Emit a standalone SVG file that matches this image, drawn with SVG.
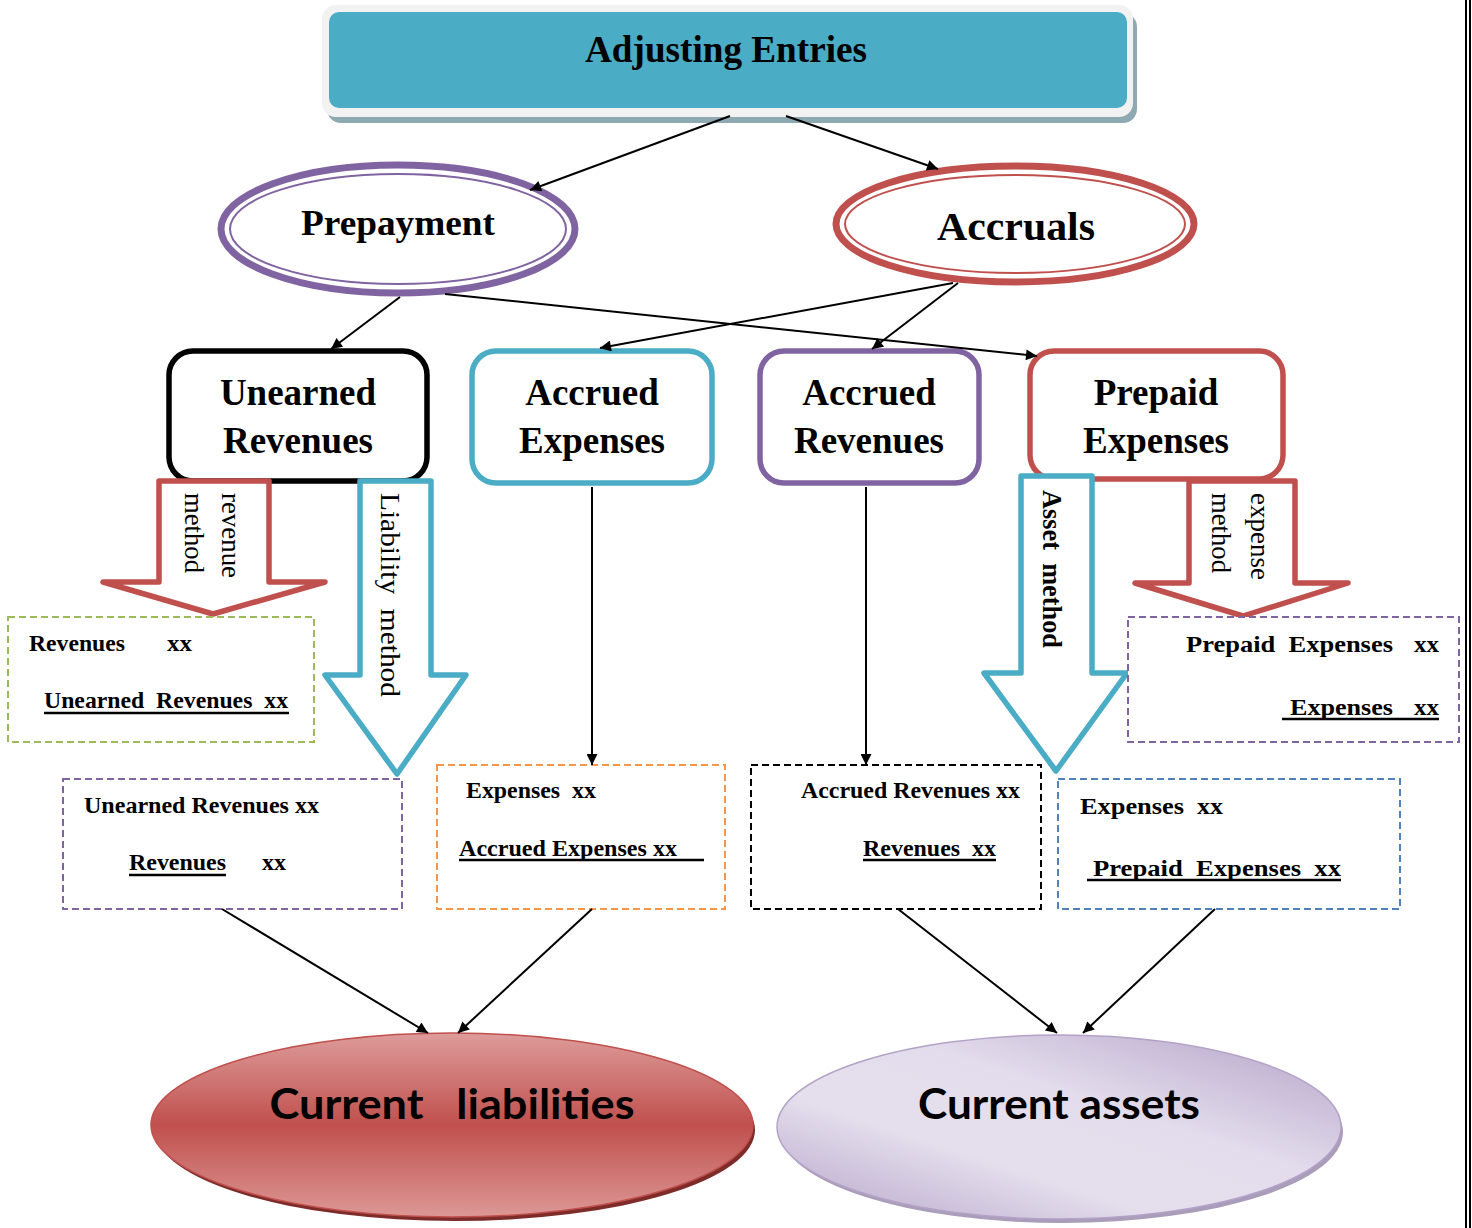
<svg xmlns="http://www.w3.org/2000/svg" width="1472" height="1228" viewBox="0 0 1472 1228" xml:space="preserve">
<defs>
<style>
text{white-space:pre}
.serif{font-family:"Liberation Serif","Times New Roman",serif;fill:#000}
.b{font-weight:bold}
.nt{font-family:"Liberation Serif","Times New Roman",serif;font-weight:bold;font-size:37px;text-anchor:middle}
.et{font-family:"Liberation Serif","Times New Roman",serif;font-weight:bold;font-size:24px}
.rt{font-family:"Liberation Serif","Times New Roman",serif;font-size:27px}
.conn{stroke:#000;stroke-width:2;fill:none}
.ul{stroke:#000;stroke-width:2.5}
.blk{fill:#fff;stroke-width:5.5;stroke-linejoin:round}
.dash{fill:#fff;stroke-width:2;stroke-dasharray:7,4}
.big{font-family:Lato,"Open Sans",sans-serif;font-weight:bold;font-size:42px;text-anchor:middle}
</style>
<marker id="ah" viewBox="0 0 10 10" refX="10" refY="5" markerWidth="14" markerHeight="11" markerUnits="userSpaceOnUse" orient="auto"><path d="M0,0 L10,5 L0,10 z" fill="#000"/></marker>
<linearGradient id="gRed" x1="0" y1="0" x2="0" y2="1">
<stop offset="0" stop-color="#dd9c9a"/><stop offset="0.5" stop-color="#c0504d"/><stop offset="1" stop-color="#dc9896"/>
</linearGradient>
<linearGradient id="gLav" x1="0" y1="1" x2="1" y2="0">
<stop offset="0" stop-color="#b4a3c8"/><stop offset="0.35" stop-color="#e5dfed"/><stop offset="0.6" stop-color="#e3dcec"/><stop offset="1" stop-color="#b3a2c7"/>
</linearGradient>
</defs>
<g id="edge"><line x1="1466" y1="0" x2="1466" y2="1228" stroke="#000" stroke-width="2"/><line x1="1470" y1="0" x2="1470" y2="1228" stroke="#000" stroke-width="2"/></g>
<g id="adjusting-entries"><rect x="327" y="13" width="810" height="110" rx="14" fill="#8ea9b1"/><rect x="322" y="5" width="811" height="112" rx="14" fill="#f2f2f2"/><rect x="329" y="12" width="798" height="96" rx="10" fill="#4bacc6"/><text class="serif b" x="726" y="62" font-size="37" text-anchor="middle" textLength="282" lengthAdjust="spacingAndGlyphs">Adjusting Entries</text></g>
<g id="prepayment"><ellipse cx="398" cy="229" rx="177" ry="64" fill="#fff" stroke="#8064a2" stroke-width="7"/><ellipse cx="398" cy="229" rx="168" ry="55" fill="none" stroke="#8064a2" stroke-width="2"/><text class="serif b" x="398" y="235" font-size="35" text-anchor="middle" textLength="194" lengthAdjust="spacingAndGlyphs">Prepayment</text></g>
<g id="accruals"><ellipse cx="1015" cy="224" rx="179" ry="58" fill="#fff" stroke="#c0504d" stroke-width="7"/><ellipse cx="1015" cy="224" rx="170" ry="49" fill="none" stroke="#c0504d" stroke-width="2"/><text class="serif b" x="1016" y="240" font-size="41" text-anchor="middle" textLength="158" lengthAdjust="spacingAndGlyphs">Accruals</text></g>
<g id="unearned-revenues"><rect x="169" y="351" width="258" height="130" rx="24" fill="#fff" stroke="#000" stroke-width="5.5"/><text class="nt" x="298" y="405">Unearned</text><text class="nt" x="298" y="453">Revenues</text></g>
<g id="accrued-expenses"><rect x="472" y="351" width="240" height="132" rx="24" fill="#fff" stroke="#4bacc6" stroke-width="5.5"/><text class="nt" x="592" y="405">Accrued</text><text class="nt" x="592" y="453">Expenses</text></g>
<g id="accrued-revenues"><rect x="760" y="351" width="219" height="132" rx="24" fill="#fff" stroke="#8064a2" stroke-width="5.5"/><text class="nt" x="869" y="405">Accrued</text><text class="nt" x="869" y="453">Revenues</text></g>
<g id="prepaid-expenses"><rect x="1030" y="351" width="253" height="128" rx="24" fill="#fff" stroke="#c0504d" stroke-width="5.5"/><text class="nt" x="1156" y="405">Prepaid</text><text class="nt" x="1156" y="453">Expenses</text></g>
<g id="revenue-method-arrow"><path class="blk" stroke="#c0504d" d="M159,481 L269,481 L269,582 L325,582 L213,614 L103,582 L159,582 Z"/><text class="rt" transform="translate(222,493) rotate(90)" textLength="85" lengthAdjust="spacingAndGlyphs">revenue</text><text class="rt" transform="translate(185,493) rotate(90)" textLength="80" lengthAdjust="spacingAndGlyphs">method</text></g>
<g id="liability-method-arrow"><path class="blk" stroke="#4bacc6" d="M360,481 L431,481 L431,675 L466,675 L397,774 L325,675 L360,675 Z"/><text class="rt" font-size="29" transform="translate(381,493) rotate(90)" textLength="204" lengthAdjust="spacingAndGlyphs">Liability  method</text></g>
<g id="asset-method-arrow"><path class="blk" stroke="#4bacc6" d="M1021,476 L1092,476 L1092,673 L1127,673 L1056,771 L984,673 L1021,673 Z"/><text class="rt b" font-size="26" transform="translate(1043,490) rotate(90)" textLength="158" lengthAdjust="spacingAndGlyphs">Asset  method</text></g>
<g id="expense-method-arrow"><path class="blk" stroke="#c0504d" d="M1189,481 L1295,481 L1295,583 L1348,583 L1243,616 L1135,583 L1189,583 Z"/><text class="rt" transform="translate(1251,493) rotate(90)" textLength="87" lengthAdjust="spacingAndGlyphs">expense</text><text class="rt" transform="translate(1212,493) rotate(90)" textLength="80" lengthAdjust="spacingAndGlyphs">method</text></g>
<g id="entry-revenue-method"><rect class="dash" x="8" y="617" width="306" height="125" stroke="#9bbb59"/><text class="et" x="29" y="651" textLength="96" lengthAdjust="spacingAndGlyphs">Revenues</text><text class="et" x="167" y="651" textLength="25" lengthAdjust="spacingAndGlyphs">xx</text><text class="et" x="44" y="708" textLength="244" lengthAdjust="spacingAndGlyphs">Unearned  Revenues  xx</text><line class="ul" x1="44" y1="713" x2="289" y2="713"/></g>
<g id="entry-expense-method"><rect class="dash" x="1128" y="617" width="331" height="125" stroke="#8064a2"/><text class="et" x="1186" y="652" textLength="207" lengthAdjust="spacingAndGlyphs">Prepaid  Expenses</text><text class="et" x="1414" y="652" textLength="25" lengthAdjust="spacingAndGlyphs">xx</text><text class="et" x="1290" y="715" textLength="103" lengthAdjust="spacingAndGlyphs">Expenses</text><text class="et" x="1414" y="715" textLength="25" lengthAdjust="spacingAndGlyphs">xx</text><line class="ul" x1="1282" y1="719" x2="1439" y2="719"/></g>
<g id="entry-liability-method"><rect class="dash" x="63" y="779" width="339" height="130" stroke="#8064a2"/><text class="et" x="84" y="813" textLength="235" lengthAdjust="spacingAndGlyphs">Unearned Revenues xx</text><text class="et" x="129" y="870" textLength="97" lengthAdjust="spacingAndGlyphs">Revenues</text><text class="et" x="262" y="870" textLength="24" lengthAdjust="spacingAndGlyphs">xx</text><line class="ul" x1="129" y1="875" x2="226" y2="875"/></g>
<g id="entry-accrued-expenses"><rect class="dash" x="437" y="765" width="288" height="144" stroke="#f79646"/><text class="et" x="466" y="798" textLength="94" lengthAdjust="spacingAndGlyphs">Expenses</text><text class="et" x="572" y="798" textLength="24" lengthAdjust="spacingAndGlyphs">xx</text><text class="et" x="459" y="856" textLength="218" lengthAdjust="spacingAndGlyphs">Accrued Expenses xx</text><line class="ul" x1="459" y1="860" x2="704" y2="860"/></g>
<g id="entry-accrued-revenues"><rect class="dash" x="751" y="765" width="290" height="144" stroke="#000"/><text class="et" x="801" y="798" textLength="219" lengthAdjust="spacingAndGlyphs">Accrued Revenues xx</text><text class="et" x="863" y="856" textLength="133" lengthAdjust="spacingAndGlyphs">Revenues  xx</text><line class="ul" x1="863" y1="860" x2="996" y2="860"/></g>
<g id="entry-asset-method"><rect class="dash" x="1058" y="779" width="342" height="130" stroke="#4f81bd"/><text class="et" x="1080" y="814" textLength="104" lengthAdjust="spacingAndGlyphs">Expenses</text><text class="et" x="1197" y="814" textLength="26" lengthAdjust="spacingAndGlyphs">xx</text><text class="et" x="1093" y="876" textLength="248" lengthAdjust="spacingAndGlyphs">Prepaid  Expenses  xx</text><line class="ul" x1="1087" y1="880" x2="1341" y2="880"/></g>
<g id="current-liabilities"><ellipse cx="455" cy="1130" rx="300" ry="91" fill="#7d2c2a"/><ellipse cx="452" cy="1125" rx="301" ry="92" fill="url(#gRed)" stroke="#c0504d" stroke-width="1.5"/><text class="big" x="452" y="1119" textLength="365" lengthAdjust="spacingAndGlyphs">Current   liabilities</text></g>
<g id="current-assets"><ellipse cx="1062" cy="1132" rx="281" ry="91" fill="#a99dba"/><ellipse cx="1059" cy="1127" rx="282" ry="92" fill="url(#gLav)" stroke="#b3a2c7" stroke-width="1.5"/><text class="big" x="1059" y="1119" textLength="282" lengthAdjust="spacingAndGlyphs">Current assets</text></g>
<g id="connectors">
<line class="conn" x1="730" y1="116" x2="530" y2="190" marker-end="url(#ah)"/>
<line class="conn" x1="786" y1="116" x2="938" y2="169" marker-end="url(#ah)"/>
<line class="conn" x1="400" y1="297" x2="331" y2="349" marker-end="url(#ah)"/>
<line class="conn" x1="445" y1="294" x2="1037" y2="356" marker-end="url(#ah)"/>
<line class="conn" x1="953" y1="283" x2="600" y2="348" marker-end="url(#ah)"/>
<line class="conn" x1="958" y1="283" x2="872" y2="349" marker-end="url(#ah)"/>
<line class="conn" x1="592" y1="487" x2="592" y2="765" marker-end="url(#ah)"/>
<line class="conn" x1="866" y1="487" x2="866" y2="765" marker-end="url(#ah)"/>
<line class="conn" x1="222" y1="909" x2="428" y2="1033" marker-end="url(#ah)"/>
<line class="conn" x1="592" y1="909" x2="458" y2="1033" marker-end="url(#ah)"/>
<line class="conn" x1="898" y1="909" x2="1057" y2="1033" marker-end="url(#ah)"/>
<line class="conn" x1="1215" y1="909" x2="1083" y2="1033" marker-end="url(#ah)"/>
</g>
</svg>
